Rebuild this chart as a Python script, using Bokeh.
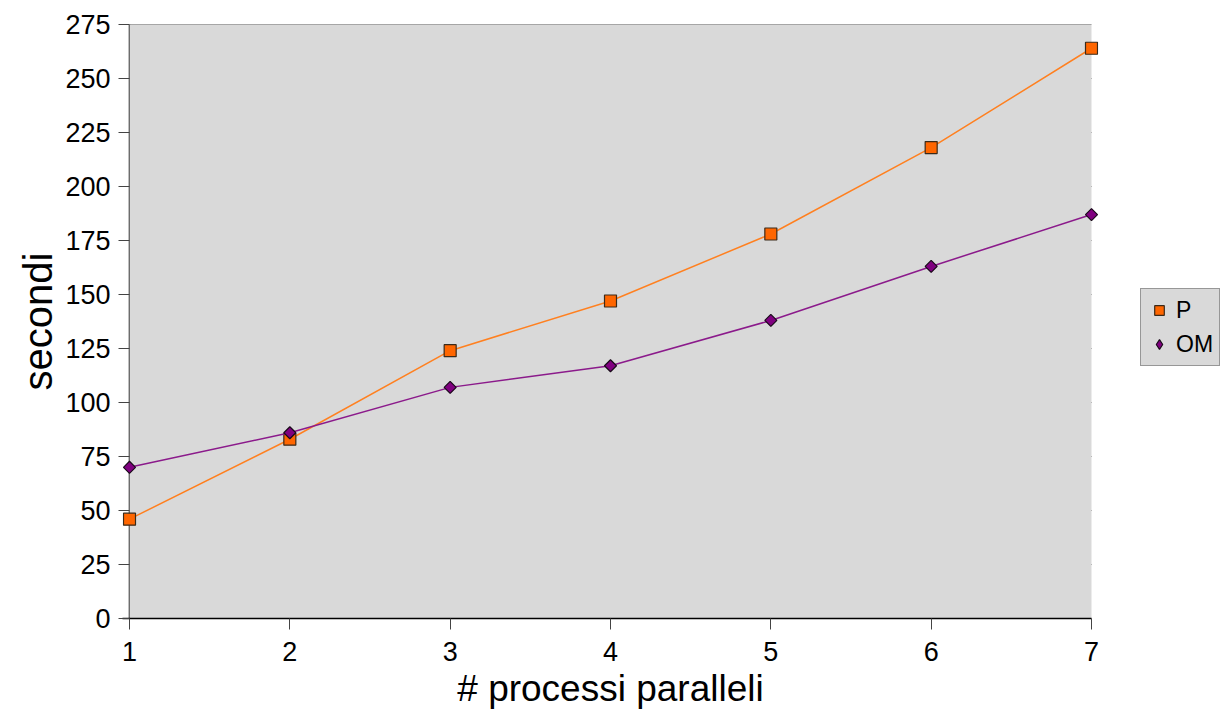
import math
from bokeh.plotting import figure
from bokeh.layouts import row
from bokeh.models import FixedTicker, Legend, LegendItem, Range1d, BoxAnnotation, Span
from bokeh.embed import file_html
from bokeh.resources import INLINE

x_vals = [1, 2, 3, 4, 5, 6, 7]
p_vals = [46, 83, 124, 147, 178, 218, 264]
om_vals = [70, 86, 107, 117, 138, 163, 187]
y_ticks = [0, 25, 50, 75, 100, 125, 150, 175, 200, 225, 250, 275]
series_names = ["P", "OM"]

FONT = "Liberation Sans"
X_MIN, X_MAX = 1, 7
Y_MIN, Y_MAX = 0, 275
PAD = 7 / (962 / 6)  # small margin so edge markers are not clipped

P_FILL, P_LINE, P_EDGE = "#ff6600", "#ff8020", "#3a2a1a"
OM_FILL, OM_LINE, OM_EDGE = "#800080", "#8b1a8b", "#1a0a1a"

p = figure(width=1110, height=714, output_backend="svg", toolbar_location=None,
           x_range=Range1d(X_MIN - PAD, X_MAX + PAD), y_range=Range1d(Y_MIN, Y_MAX),
           min_border_left=122, min_border_right=12, min_border_top=24, min_border_bottom=96)
p.background_fill_color = "white"
p.border_fill_color = "white"
p.outline_line_color = None

bg = BoxAnnotation(left=X_MIN, right=X_MAX, fill_color="#d9d9d9", fill_alpha=1,
                   line_color=None, level="underlay")
p.add_layout(bg)

p.xgrid.grid_line_color = None
p.ygrid.grid_line_color = None
n = len(y_ticks)
p.segment(x0=[X_MIN] * n, y0=y_ticks, x1=[X_MAX] * n, y1=y_ticks,
          line_color="#2b2b2b", line_width=1, level="image")

p.xaxis.ticker = FixedTicker(ticks=x_vals)
p.yaxis.ticker = FixedTicker(ticks=y_ticks)
for ax in (p.xaxis[0], p.yaxis[0]):
    ax.major_tick_line_color = "#444444"
    ax.minor_tick_line_color = None
    ax.major_label_text_font = FONT
    ax.major_label_text_font_size = "27px"
    ax.major_label_text_color = "black"
    ax.axis_label_text_font = FONT
    ax.axis_label_text_font_style = "normal"
    ax.axis_label_text_color = "black"
p.xaxis.axis_line_color = "black"
p.xaxis.axis_line_width = 1.5
p.xaxis.bounds = (X_MIN - PAD, X_MAX)
p.xaxis.major_tick_in = 0
p.xaxis.major_tick_out = 11
p.yaxis.axis_line_color = None
p.yaxis.major_tick_in = 7
p.yaxis.major_tick_out = 4
p.xaxis.axis_label = "# processi paralleli"
p.yaxis.axis_label = "secondi"
p.xaxis.axis_label_text_font_size = "37px"
p.yaxis.axis_label_text_font_size = "40px"
p.xaxis.major_label_standoff = 12
p.yaxis.major_label_standoff = 8
p.xaxis.axis_label_standoff = 4
p.yaxis.axis_label_standoff = 2

yline = Span(location=X_MIN, dimension="height", line_color="black", line_width=1.5,
             level="image")
p.add_layout(yline)

p.line(x_vals, p_vals, line_color=P_LINE, line_width=1.5)
p.scatter(x_vals, p_vals, marker="square", size=12, fill_color=P_FILL,
          line_color=P_EDGE, line_width=1.2)
p.line(x_vals, om_vals, line_color=OM_LINE, line_width=1.5)
p.scatter(x_vals, om_vals, marker="square", angle=math.pi / 4, size=8.5,
          fill_color=OM_FILL, line_color=OM_EDGE, line_width=1.2)

# separate small figure holding the legend (outside the plot area)
lf = figure(width=115, height=714, output_backend="svg", toolbar_location=None,
            x_range=Range1d(0, 1), y_range=Range1d(0, 1),
            x_axis_type=None, y_axis_type=None,
            min_border_left=0, min_border_right=0, min_border_top=0, min_border_bottom=0)
lf.outline_line_color = None
lf.background_fill_color = "white"
lf.border_fill_color = "white"
lf.xgrid.grid_line_color = None
lf.ygrid.grid_line_color = None
# proxy renderers for the legend swatches (one point each, placed outside the visible range)
lp = lf.scatter(x=[-5], y=[-5], marker="square", size=12, fill_color=P_FILL,
                line_color=P_EDGE, line_width=1.2)
lo = lf.scatter(x=[-5], y=[-5], marker="diamond", size=13,
                fill_color=OM_FILL, line_color=OM_EDGE, line_width=1.2)

legend = Legend(items=[LegendItem(label=series_names[0], renderers=[lp]),
                       LegendItem(label=series_names[1], renderers=[lo])],
                location=(30, 252))
legend.background_fill_color = "#d9d9d9"
legend.background_fill_alpha = 1
legend.border_line_color = "#555555"
legend.border_line_width = 1
legend.label_text_font = FONT
legend.label_text_font_size = "23px"
legend.label_text_color = "black"
legend.glyph_width = 24
legend.glyph_height = 30
legend.label_height = 30
legend.label_standoff = 5
legend.padding = 6
legend.spacing = 4
legend.margin = 0
lf.add_layout(legend, "center")

layout = row(p, lf, spacing=0)
open("out.html", "w").write(file_html(layout, INLINE))
